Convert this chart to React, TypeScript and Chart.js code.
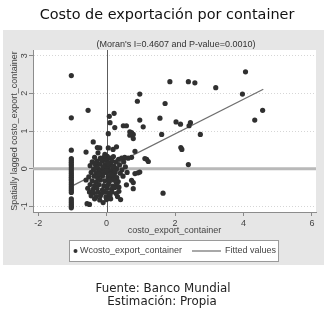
import React, { useEffect, useRef } from "react";
import { Chart, registerables } from "chart.js";
Chart.register(...registerables);

const W = 335;
const H = 318;

const titleText = "Costo de exportación por container";
const subtitleText = "(Moran's I=0.4607 and P-value=0.0010)";
const xAxisTitle = "costo_export_container";
const yAxisTitle = "Spatially lagged costo_export_container";
const legendLabels = ["Wcosto_export_container", "Fitted values"];
const footerLines = ["Fuente: Banco Mundial", "Estimación: Propia"];

const xTicks = [-2, 0, 2, 4, 6];
const yTicks = [-1, 0, 1, 2, 3];
const xRange = [-2.15, 6.12];
const yRange = [-1.15, 3.15];

// countries sitting at the left column (x ≈ -1.03)
const columnX = -1.03;
const columnY = [
  2.47, 1.35, 0.49, 0.27, 0.22, 0.17, 0.12, 0.07, 0.02, -0.03, -0.08, -0.13,
  -0.18, -0.23, -0.28, -0.33, -0.38, -0.43, -0.48, -0.53, -0.58, -0.63,
  -0.8, -0.85, -0.9, -0.95, -1.0, -1.04,
];

// remaining scattered observations
const pointsX = [
  -0.54, 0.08, 0.22, 0.1, 0.24, 0.97, 0.9, 1.71, 1.85, 2.39, 2.58, 3.19, 4.06,
  3.97, 4.56, 4.33, 0.49, 0.58, 0.68, 0.73, 0.78, 0.68, 0.78, 0.97, 1.07, 1.56,
  1.61, 2.03, 2.16, 2.45, 2.41, 2.74, 2.17, 2.2, 2.39, 1.65, 0.83, 1.12, 1.17,
  1.22, 0.05, -0.6, -0.39, -0.27, -0.2, 0.05, 0.19, 0.29, 0.49, 0.53, 0.63,
  0.73, 0.83, 0.92, 0.97, 0.58, 0.78, 0.78, 0.73, 0.34, 0.36, 0.41,
  -0.25, -0.05, 0.02,
  -0.35, -0.18, -0.08, 0.1, 0.2, 0.35, 0.44,
  -0.42, -0.28, -0.12, 0.0, 0.08, 0.16, 0.28, 0.5,
  -0.48, -0.32, -0.2, -0.05, 0.05, 0.13, 0.22, 0.38, 0.55,
  -0.38, -0.25, -0.15, -0.02, 0.1, 0.2, 0.3, 0.45,
  -0.45, -0.3, -0.2, -0.1, 0.0, 0.15, 0.25, 0.4, 0.6,
  -0.52, -0.36, -0.26, -0.12, 0.04, 0.12, 0.22, 0.3, 0.48,
  -0.6, -0.42, -0.3, -0.18, -0.05, 0.08, 0.2, 0.28,
  -0.48, -0.35, -0.22, -0.08, 0.05, 0.18, 0.3,
  -0.55, -0.4, -0.28, -0.12, 0.02, 0.15, 0.24,
  -0.5, -0.38, -0.25, -0.15, -0.05, 0.06, 0.16, 0.28, 0.36,
  -0.45, -0.3, -0.18, -0.02, 0.1, 0.32,
  -0.35, -0.2, 0.0, 0.12,
  -0.57, -0.5, -0.1,
  -0.3, -0.1, 0.05, 0.18, -0.22, 0.0, 0.12, -0.15, 0.07, -0.35, 0.25,
];
const pointsY = [
  1.55, 1.39, 1.47, 1.22, 1.09, 1.98, 1.79, 1.73, 2.31, 2.31, 2.28, 2.15, 2.57,
  1.98, 1.55, 1.29, 1.14, 1.14, 0.98, 0.96, 0.91, 0.89, 0.8, 1.29, 1.11, 1.34,
  0.91, 1.24, 1.18, 1.22, 1.14, 0.91, 0.56, 0.51, 0.11, -0.65, 0.46, 0.27, 0.25,
  0.19, 0.93, 0.44, 0.71, 0.56, 0.55, 0.55, 0.51, 0.58, 0.27, 0.3, 0.28,
  0.3, -0.13, -0.11, -0.09, -0.43, -0.37, -0.53, -0.31, -0.34, -0.49, -0.82,
  0.42, 0.38, 0.33,
  0.3, 0.28, 0.3, 0.28, 0.32, 0.25, 0.28,
  0.18, 0.2, 0.2, 0.22, 0.15, 0.2, 0.18, 0.18,
  0.08, 0.1, 0.12, 0.1, 0.05, 0.1, 0.06, 0.1, 0.05,
  -0.02, 0.0, -0.03, 0.0, -0.05, -0.02, 0.0, -0.03,
  -0.1, -0.12, -0.08, -0.12, -0.1, -0.13, -0.1, -0.12, -0.1,
  -0.22, -0.2, -0.24, -0.2, -0.22, -0.25, -0.2, -0.24, -0.2,
  -0.3, -0.32, -0.35, -0.3, -0.32, -0.35, -0.3, -0.36,
  -0.42, -0.45, -0.42, -0.45, -0.42, -0.46, -0.42,
  -0.52, -0.55, -0.52, -0.56, -0.52, -0.55, -0.5,
  -0.62, -0.64, -0.62, -0.66, -0.62, -0.65, -0.62, -0.66, -0.6,
  -0.72, -0.74, -0.72, -0.75, -0.72, -0.74,
  -0.8, -0.83, -0.82, -0.8,
  -0.93, -0.95, -0.9,
  0.05, 0.05, 0.15, 0.05, -0.15, -0.05, -0.15, 0.25, -0.3, 0.15, -0.05,
];

const fittedX = [-1.03, 4.58];
const fittedY = [-0.47, 2.11];

const sans = "'Liberation Sans', Arial, sans-serif";
const geo = "'DejaVu Sans', sans-serif";

function fitSize(ctx: CanvasRenderingContext2D, text: string, family: string, weight: string, target: number) {
  ctx.font = `${weight} 20px ${family}`;
  const w = ctx.measureText(text).width;
  return (20 * target) / w;
}

const decorPlugin = {
  id: "decor",
  beforeDraw(chart: any) {
    const ctx: CanvasRenderingContext2D = chart.ctx;
    const a = chart.chartArea;
    ctx.save();
    ctx.fillStyle = "#ffffff";
    ctx.fillRect(0, 0, W, H);
    ctx.fillStyle = "#e6e6e6";
    ctx.fillRect(3, 30, 321, 235);
    ctx.fillStyle = "#ffffff";
    ctx.fillRect(a.left, a.top, a.right - a.left, a.bottom - a.top);
    ctx.restore();
  },
  beforeDatasetsDraw(chart: any) {
    const ctx: CanvasRenderingContext2D = chart.ctx;
    const a = chart.chartArea;
    const xs = chart.scales.x;
    const ys = chart.scales.y;
    const y0 = ys.getPixelForValue(0);
    const x0 = xs.getPixelForValue(0);
    ctx.save();
    ctx.strokeStyle = "#b9b9b9";
    ctx.lineWidth = 3;
    ctx.beginPath();
    ctx.moveTo(a.left, y0);
    ctx.lineTo(a.right, y0);
    ctx.stroke();
    ctx.strokeStyle = "#5c5c5c";
    ctx.lineWidth = 1;
    ctx.beginPath();
    ctx.moveTo(Math.round(x0) + 0.5, a.top);
    ctx.lineTo(Math.round(x0) + 0.5, a.bottom);
    ctx.stroke();
    ctx.restore();
  },
  afterDraw(chart: any) {
    const ctx: CanvasRenderingContext2D = chart.ctx;
    const a = chart.chartArea;
    const ys = chart.scales.y;
    ctx.save();
    ctx.textAlign = "center";
    ctx.textBaseline = "middle";

    // title
    const ts = fitSize(ctx, titleText, geo, "normal", 255);
    ctx.font = `normal ${ts}px ${geo}`;
    ctx.fillStyle = "#111";
    ctx.fillText(titleText, 167, 15);

    // subtitle
    ctx.font = `9px ${sans}`;
    ctx.fillStyle = "#333";
    ctx.fillText(subtitleText, 176, 45);

    // y tick labels (rotated)
    ctx.fillStyle = "#444";
    for (const v of yTicks) {
      const py = ys.getPixelForValue(v);
      ctx.save();
      ctx.translate(25, py);
      ctx.rotate(-Math.PI / 2);
      ctx.fillText(String(v), 0, 0);
      ctx.restore();
    }

    // y axis title
    ctx.save();
    ctx.translate(15, (a.top + a.bottom) / 2);
    ctx.rotate(-Math.PI / 2);
    ctx.fillStyle = "#444";
    ctx.fillText(yAxisTitle, 0, 0);
    ctx.restore();

    // x axis title
    ctx.fillStyle = "#444";
    ctx.fillText(xAxisTitle, (a.left + a.right) / 2, 231);

    // legend
    ctx.fillStyle = "#ffffff";
    ctx.fillRect(69.5, 240.5, 209, 21);
    ctx.strokeStyle = "#9a9a9a";
    ctx.lineWidth = 1;
    ctx.strokeRect(69.5, 240.5, 209, 21);
    ctx.fillStyle = "#333";
    ctx.beginPath();
    ctx.arc(75.5, 251, 2, 0, Math.PI * 2);
    ctx.fill();
    ctx.textAlign = "left";
    ctx.fillStyle = "#444";
    ctx.fillText(legendLabels[0], 80, 251);
    ctx.strokeStyle = "#6e6e6e";
    ctx.lineWidth = 1.2;
    ctx.beginPath();
    ctx.moveTo(192, 251);
    ctx.lineTo(221, 251);
    ctx.stroke();
    ctx.fillText(legendLabels[1], 225, 251);

    // footer
    ctx.textAlign = "center";
    const fs = fitSize(ctx, footerLines[0], geo, "normal", 135);
    ctx.font = `normal ${fs}px ${geo}`;
    ctx.fillStyle = "#222";
    ctx.fillText(footerLines[0], 163, 289);
    ctx.fillText(footerLines[1], 162, 302);
    ctx.restore();
  },
};

export default function App() {
  const ref = useRef<HTMLCanvasElement>(null);
  useEffect(() => {
    document.body.style.margin = "0";
    const scatterData = [
      ...columnY.map((y) => ({ x: columnX, y })),
      ...pointsX.map((x, i) => ({ x, y: pointsY[i] })),
    ];
    const chart = new Chart(ref.current as HTMLCanvasElement, {
      type: "scatter",
      data: {
        datasets: [
          {
            label: legendLabels[0],
            data: scatterData,
            pointRadius: 2.6,
            pointBackgroundColor: "#303030",
            pointBorderWidth: 0,
            showLine: false,
          } as any,
          {
            type: "line",
            label: legendLabels[1],
            data: fittedX.map((x, i) => ({ x, y: fittedY[i] })),
            borderColor: "#6e6e6e",
            borderWidth: 1.2,
            pointRadius: 0,
            fill: false,
            showLine: true,
          } as any,
        ],
      },
      options: {
        responsive: false,
        animation: false,
        layout: { padding: { left: 0, top: 50, right: 19, bottom: 86 } },
        plugins: { legend: { display: false }, tooltip: { enabled: false }, title: { display: false } },
        scales: {
          x: {
            type: "linear",
            min: xRange[0],
            max: xRange[1],
            afterBuildTicks: (s: any) => {
              s.ticks = xTicks.map((v) => ({ value: v }));
            },
            afterFit: (s: any) => {
              s.height = 20;
            },
            ticks: {
              font: { family: sans, size: 9 },
              color: "#444",
              padding: 2,
              maxRotation: 0,
              autoSkip: false,
            },
            grid: { drawOnChartArea: false, drawTicks: true, tickLength: 4, color: "#888", tickColor: "#888" },
            border: { display: true, color: "#8c8c8c" },
          },
          y: {
            type: "linear",
            min: yRange[0],
            max: yRange[1],
            afterBuildTicks: (s: any) => {
              s.ticks = yTicks.map((v) => ({ value: v }));
            },
            afterFit: (s: any) => {
              s.width = 33;
            },
            ticks: { display: false },
            grid: { drawOnChartArea: true, drawTicks: true, tickLength: 4, color: "#d6d6d6", tickColor: "#888" },
            border: { display: true, color: "#8c8c8c", dash: [1, 2] },
          },
        },
      } as any,
      plugins: [decorPlugin],
    });
    return () => chart.destroy();
  }, []);
  return (
    <div style={{ width: W, height: H }}>
      <canvas ref={ref} width={W} height={H} style={{ display: "block" }} />
    </div>
  );
}
